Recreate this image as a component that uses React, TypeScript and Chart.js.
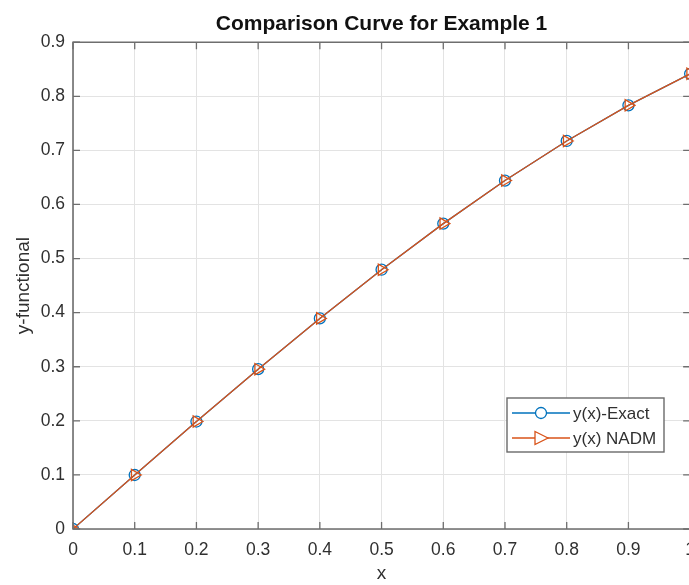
import React, { useEffect, useRef } from "react";
import { Chart, registerables } from "chart.js";

Chart.register(...registerables);

const xValues = [0, 0.1, 0.2, 0.3, 0.4, 0.5, 0.6, 0.7, 0.8, 0.9, 1.0];
const exactValues = [0, 0.0998, 0.1987, 0.2955, 0.3894, 0.4794, 0.5646, 0.6442, 0.7174, 0.7833, 0.8415];
const nadmValues = [0, 0.0998, 0.1987, 0.2955, 0.3894, 0.4794, 0.5646, 0.6442, 0.7174, 0.7833, 0.8415];
const xTickLabels = ["0", "0.1", "0.2", "0.3", "0.4", "0.5", "0.6", "0.7", "0.8", "0.9", "1"];
const yTickLabels = ["0", "0.1", "0.2", "0.3", "0.4", "0.5", "0.6", "0.7", "0.8", "0.9"];
const seriesNames = ["y(x)-Exact", "y(x) NADM"];
const titleText = "Comparison Curve for Example 1";
const xTitle = "x";
const yTitle = "y-functional";

const BLUE = "#0072BD";
const ORANGE = "#D95319";
const FONT = "'Liberation Sans', Arial, Helvetica, sans-serif";
const TEXT = "#303030";

const framePlugin = {
  id: "frame",
  afterDatasetsDraw(chart: any) {
    const { ctx, chartArea } = chart;
    const { left, right, top, bottom } = chartArea;
    const xs = chart.scales.x;
    const ys = chart.scales.y;
    ctx.save();
    ctx.strokeStyle = "#6e6e6e";
    ctx.lineWidth = 1.6;
    ctx.beginPath();
    ctx.rect(left, top, right - left, bottom - top);
    ctx.stroke();
    const tl = 7;
    ctx.lineWidth = 1.3;
    ctx.beginPath();
    xValues.forEach((v) => {
      const px = xs.getPixelForValue(v);
      ctx.moveTo(px, bottom);
      ctx.lineTo(px, bottom - tl);
      ctx.moveTo(px, top);
      ctx.lineTo(px, top + tl);
    });
    yTickLabels.forEach((_, i) => {
      const py = ys.getPixelForValue(i * 0.1);
      ctx.moveTo(left, py);
      ctx.lineTo(left + tl, py);
      ctx.moveTo(right, py);
      ctx.lineTo(right - tl, py);
    });
    ctx.stroke();

    // legend
    const bx = 507, by = 398, bw = 157, bh = 54;
    ctx.fillStyle = "#ffffff";
    ctx.fillRect(bx, by, bw, bh);
    ctx.strokeStyle = "#6a6a6a";
    ctx.lineWidth = 1.4;
    ctx.strokeRect(bx, by, bw, bh);
    const rows = [
      { name: seriesNames[0], color: BLUE, y: 413, marker: "circle" },
      { name: seriesNames[1], color: ORANGE, y: 438, marker: "tri" },
    ];
    rows.forEach((r) => {
      ctx.strokeStyle = r.color;
      ctx.lineWidth = 1.3;
      ctx.beginPath();
      ctx.moveTo(512, r.y);
      ctx.lineTo(570, r.y);
      ctx.stroke();
      ctx.fillStyle = "#ffffff";
      ctx.beginPath();
      if (r.marker === "circle") {
        ctx.arc(541, r.y, 5.5, 0, Math.PI * 2);
      } else {
        ctx.moveTo(548, r.y);
        ctx.lineTo(535, r.y - 6.5);
        ctx.lineTo(535, r.y + 6.5);
        ctx.closePath();
      }
      ctx.fill();
      ctx.stroke();
      ctx.fillStyle = TEXT;
      ctx.font = `17px ${FONT}`;
      ctx.textBaseline = "middle";
      ctx.textAlign = "left";
      ctx.fillText(r.name, 573, r.y + 1);
    });
    ctx.restore();
  },
};

export default function App() {
  const ref = useRef<HTMLCanvasElement>(null);
  useEffect(() => {
    if (!ref.current) return;
    const chart = new Chart(ref.current, {
      type: "line",
      data: {
        datasets: [
          {
            label: seriesNames[0],
            data: xValues.map((x, i) => ({ x, y: exactValues[i] })),
            borderColor: BLUE,
            borderWidth: 1.3,
            pointStyle: "circle",
            pointRadius: 5.5,
            pointBorderColor: BLUE,
            pointBackgroundColor: "rgba(0,0,0,0)",
            pointBorderWidth: 1.3,
            tension: 0,
            order: 2,
          },
          {
            label: seriesNames[1],
            data: xValues.map((x, i) => ({ x, y: nadmValues[i] })),
            borderColor: ORANGE,
            borderWidth: 1.3,
            pointStyle: "triangle",
            rotation: 90,
            pointRadius: 6.5,
            pointBorderColor: ORANGE,
            pointBackgroundColor: "rgba(0,0,0,0)",
            pointBorderWidth: 1.3,
            tension: 0,
            order: 1,
          } as any,
        ],
      },
      options: {
        animation: false,
        responsive: false,
        maintainAspectRatio: false,
        layout: { padding: { left: 0, right: 0, top: 0, bottom: 0 } },
        plugins: {
          legend: { display: false },
          tooltip: { enabled: false },
          title: {
            display: true,
            fullSize: false,
            text: titleText,
            color: "#111",
            font: { family: FONT, size: 21, weight: "bold" },
            padding: { top: 12, bottom: 5 },
          },
        },
        scales: {
          x: {
            type: "linear",
            min: 0,
            max: 1,
            afterFit: (s: any) => {
              s.height = 56;
            },
            ticks: {
              stepSize: 0.1,
              autoSkip: false,
              maxRotation: 0,
              padding: 11,
              color: TEXT,
              font: { family: FONT, size: 17.5 },
              callback: (_v: any, i: number) => xTickLabels[i],
            },
            grid: { color: "#e3e3e3", lineWidth: 1, drawTicks: false },
            border: { display: false },
            title: {
              display: true,
              text: xTitle,
              color: TEXT,
              font: { family: FONT, size: 19 },
              padding: { top: 0, bottom: 0 },
            },
          },
          y: {
            type: "linear",
            min: 0,
            max: 0.9,
            afterFit: (s: any) => {
              s.width = 73;
            },
            ticks: {
              stepSize: 0.1,
              autoSkip: false,
              padding: 8,
              color: TEXT,
              font: { family: FONT, size: 17.5 },
              callback: (_v: any, i: number) => yTickLabels[i],
            },
            grid: { color: "#e3e3e3", lineWidth: 1, drawTicks: false },
            border: { display: false },
            title: {
              display: true,
              text: yTitle,
              color: TEXT,
              font: { family: FONT, size: 19 },
              padding: { top: 12, bottom: 0 },
            },
          },
        },
      },
      plugins: [framePlugin],
    });
    return () => chart.destroy();
  }, []);
  return (
    <div
      style={{
        position: "fixed",
        left: 0,
        top: 0,
        width: 689,
        height: 585,
        overflow: "hidden",
        background: "#fff",
      }}
    >
      <canvas ref={ref} width={706} height={585} style={{ display: "block" }} />
    </div>
  );
}
